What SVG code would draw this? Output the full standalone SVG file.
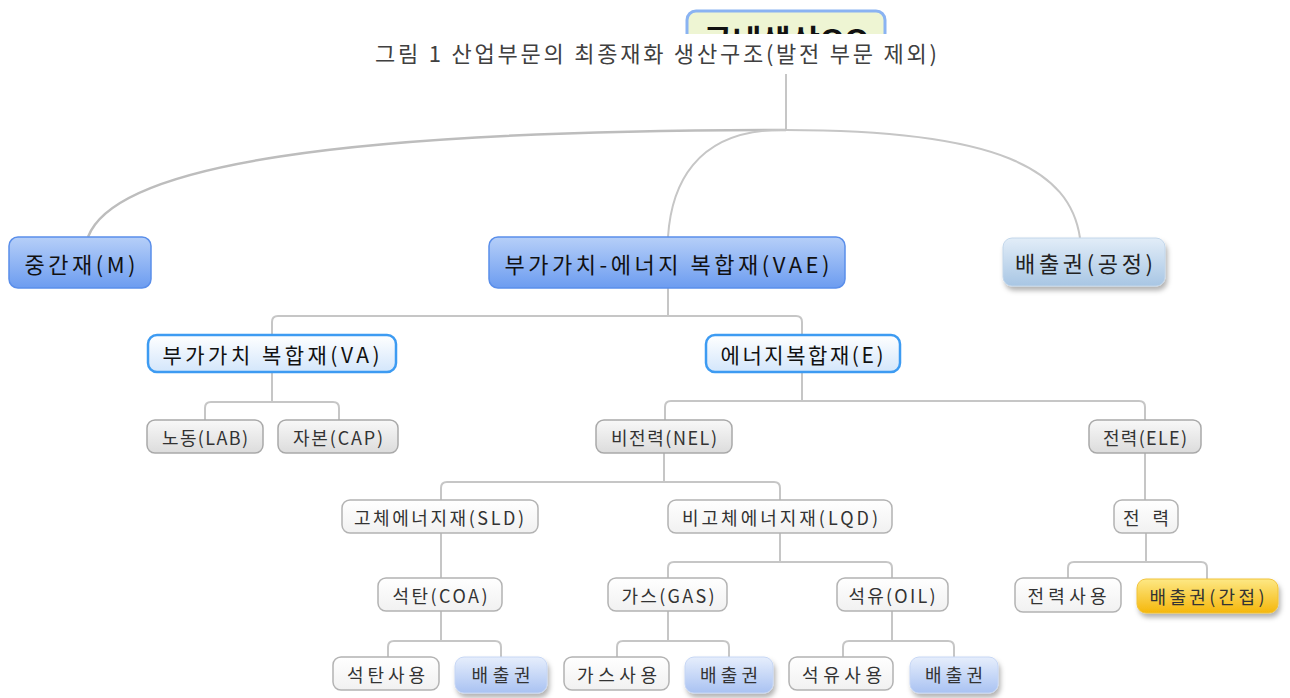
<svg xmlns="http://www.w3.org/2000/svg" width="1290" height="698" viewBox="0 0 1290 698">
<defs>
<linearGradient id="gBlue" x1="0" y1="0" x2="0" y2="1"><stop offset="0" stop-color="#b6cff8"/><stop offset="1" stop-color="#6c9cf0"/></linearGradient>
<linearGradient id="gLight" x1="0" y1="0" x2="0" y2="1"><stop offset="0" stop-color="#ffffff"/><stop offset="1" stop-color="#d3e6fb"/></linearGradient>
<linearGradient id="gGrey" x1="0" y1="0" x2="0" y2="1"><stop offset="0" stop-color="#f8f8f8"/><stop offset="1" stop-color="#dcdcdc"/></linearGradient>
<linearGradient id="gWhite" x1="0" y1="0" x2="0" y2="1"><stop offset="0" stop-color="#ffffff"/><stop offset="1" stop-color="#f1f1f1"/></linearGradient>
<linearGradient id="gEmis" x1="0" y1="0" x2="0" y2="1"><stop offset="0" stop-color="#e6eefc"/><stop offset="1" stop-color="#a9c2f2"/></linearGradient>
<linearGradient id="gProc" x1="0" y1="0" x2="0" y2="1"><stop offset="0" stop-color="#e2edf8"/><stop offset="1" stop-color="#a8c6e4"/></linearGradient>
<linearGradient id="gYel" x1="0" y1="0" x2="0" y2="1"><stop offset="0" stop-color="#fde884"/><stop offset="1" stop-color="#f5b70c"/></linearGradient>
<filter id="sh" x="-20%" y="-30%" width="150%" height="180%"><feDropShadow dx="2" dy="4" stdDeviation="2.5" flood-color="#000" flood-opacity="0.3"/></filter>
<clipPath id="rootClip"><rect x="0" y="0" width="1290" height="34"/></clipPath>
</defs>
<style>
text{font-family:"Noto Sans CJK KR","Noto Sans",sans-serif;text-anchor:middle;dominant-baseline:central}
.l1 rect{fill:url(#gBlue);stroke:#5a8eea;stroke-width:1.5}
.l1 text{font-size:22px;fill:#111}
.l2 rect{fill:url(#gLight);stroke:#3d9bf2;stroke-width:2.5}
.l2 text{font-size:21px;fill:#111}
.gr rect{fill:url(#gGrey);stroke:#a9a9a9;stroke-width:1.5}
.wh rect{fill:url(#gWhite);stroke:#b3b3b3;stroke-width:1.5}
.em rect{fill:url(#gEmis);stroke:#c6d6f4;stroke-width:1}
.gr text,.wh text,.em text,.ye text{font-size:18px;fill:#333}
.pr rect{fill:url(#gProc);stroke:#c2d6ea;stroke-width:1}
.pr text{font-size:22px;fill:#222}
.ye rect{fill:url(#gYel);stroke:#f1c33a;stroke-width:1}
.conn path{fill:none;stroke:#c6c6c6;stroke-width:2}
.conn path.c{stroke:#bdbdbd;stroke-width:2.5}
</style>
<rect width="1290" height="698" fill="#ffffff"/>

<g id="root" clip-path="url(#rootClip)">
<rect x="687" y="11" width="198" height="50" rx="9" fill="#eef5d3" stroke="#8ab3f2" stroke-width="3"/>
<text x="786" y="37" font-size="27" font-weight="bold" fill="#111" textLength="166" lengthAdjust="spacingAndGlyphs">국내생산QO</text>
</g>

<g id="title">
<rect x="0" y="34" width="1290" height="40" fill="#ffffff"/>
<text x="656" y="52" font-size="22" fill="#404040" textLength="562" lengthAdjust="spacing">그림 1 산업부문의 최종재화 생산구조(발전 부문 제외)</text>
</g>

<g id="connectors" class="conn">
<path d="M786,74 V130"/>
<path class="c" d="M786,130 C340,130 115,165 88,237"/>
<path d="M786,130 C692,128 671,190 668,237"/>
<path d="M786,130 C1000,130 1070,170 1080,238"/>
<path d="M668,288 V316 M272,335 V322 Q272,316 278,316 H796 Q802,316 802,322 V335"/>
<path d="M272,373 V402 M205,420 V408 Q205,402 211,402 H333 Q339,402 339,408 V420"/>
<path d="M802,373 V401 M665,420 V407 Q665,401 671,401 H1139 Q1145,401 1145,407 V420"/>
<path d="M664,453 V482 M441,500 V488 Q441,482 447,482 H774 Q780,482 780,488 V500"/>
<path d="M1145,453 V500"/>
<path d="M441,533 V578"/>
<path d="M780,533 V562 M668,578 V568 Q668,562 674,562 H886 Q892,562 892,568 V578"/>
<path d="M1146,533 V562 M1068,578 V568 Q1068,562 1074,562 H1201 Q1207,562 1207,568 V579"/>
<path d="M441,611 V641 M388,657 V647 Q388,641 394,641 H495 Q501,641 501,647 V657"/>
<path d="M668,611 V641 M617,657 V647 Q617,641 623,641 H723 Q729,641 729,647 V657"/>
<path d="M892,611 V641 M843,657 V647 Q843,641 849,641 H948 Q954,641 954,647 V657"/>
</g>

<g id="n-M" class="l1"><rect x="9" y="237" width="142" height="51" rx="9"/><text x="80" y="263" textLength="111" lengthAdjust="spacing">중간재(M)</text></g>
<g id="n-VAE" class="l1"><rect x="489" y="237" width="356" height="51" rx="9"/><text x="667" y="263" textLength="325" lengthAdjust="spacing">부가가치-에너지 복합재(VAE)</text></g>
<g id="n-proc" class="pr"><rect x="1003" y="238" width="162" height="48" rx="9" filter="url(#sh)"/><text x="1084" y="262" textLength="138" lengthAdjust="spacing">배출권(공정)</text></g>

<g id="n-VA" class="l2"><rect x="148" y="335" width="248" height="37" rx="9"/><text x="271" y="354" textLength="217" lengthAdjust="spacing">부가가치 복합재(VA)</text></g>
<g id="n-E" class="l2"><rect x="706" y="335" width="194" height="37" rx="9"/><text x="802" y="354" textLength="163" lengthAdjust="spacing">에너지복합재(E)</text></g>

<g id="n-LAB" class="gr"><rect x="147" y="420" width="116" height="33" rx="8"/><text x="205" y="437" textLength="86" lengthAdjust="spacing">노동(LAB)</text></g>
<g id="n-CAP" class="gr"><rect x="278" y="420" width="120" height="33" rx="8"/><text x="338" y="437" textLength="90" lengthAdjust="spacing">자본(CAP)</text></g>
<g id="n-NEL" class="gr"><rect x="596" y="420" width="136" height="33" rx="8"/><text x="664" y="437" textLength="106" lengthAdjust="spacing">비전력(NEL)</text></g>
<g id="n-ELE" class="gr"><rect x="1089" y="420" width="112" height="33" rx="8"/><text x="1145" y="437" textLength="84" lengthAdjust="spacing">전력(ELE)</text></g>

<g id="n-SLD" class="wh"><rect x="342" y="500" width="196" height="33" rx="8"/><text x="439" y="517" textLength="170" lengthAdjust="spacing">고체에너지재(SLD)</text></g>
<g id="n-LQD" class="wh"><rect x="668" y="500" width="224" height="33" rx="8"/><text x="780" y="517" textLength="196" lengthAdjust="spacing">비고체에너지재(LQD)</text></g>
<g id="n-power" class="wh"><rect x="1114" y="500" width="64" height="33" rx="8"/><text x="1146" y="517" textLength="46" lengthAdjust="spacing">전력</text></g>

<g id="n-COA" class="wh"><rect x="378" y="578" width="124" height="33" rx="8"/><text x="440" y="595" textLength="95" lengthAdjust="spacing">석탄(COA)</text></g>
<g id="n-GAS" class="wh"><rect x="608" y="578" width="119" height="33" rx="8"/><text x="668" y="595" textLength="93" lengthAdjust="spacing">가스(GAS)</text></g>
<g id="n-OIL" class="wh"><rect x="837" y="578" width="111" height="33" rx="8"/><text x="892" y="595" textLength="87" lengthAdjust="spacing">석유(OIL)</text></g>
<g id="n-powuse" class="wh"><rect x="1015" y="578" width="106" height="34" rx="8"/><text x="1067" y="595" textLength="79" lengthAdjust="spacing">전력사용</text></g>
<g id="n-indirect" class="ye"><rect x="1137" y="579" width="141" height="34" rx="9" filter="url(#sh)"/><text x="1207" y="596" textLength="115" lengthAdjust="spacing">배출권(간접)</text></g>

<g id="n-coaluse" class="wh"><rect x="333" y="657" width="106" height="33" rx="8"/><text x="386" y="674" textLength="78" lengthAdjust="spacing">석탄사용</text></g>
<g id="n-coalem" class="em"><rect x="455" y="657" width="92" height="36" rx="9" filter="url(#sh)"/><text x="501" y="674" textLength="59" lengthAdjust="spacing">배출권</text></g>
<g id="n-gasuse" class="wh"><rect x="564" y="657" width="105" height="33" rx="8"/><text x="617" y="674" textLength="80" lengthAdjust="spacing">가스사용</text></g>
<g id="n-gasem" class="em"><rect x="685" y="657" width="88" height="36" rx="9" filter="url(#sh)"/><text x="729" y="674" textLength="58" lengthAdjust="spacing">배출권</text></g>
<g id="n-oiluse" class="wh"><rect x="789" y="657" width="104" height="33" rx="8"/><text x="842" y="674" textLength="80" lengthAdjust="spacing">석유사용</text></g>
<g id="n-oilem" class="em"><rect x="910" y="657" width="88" height="36" rx="9" filter="url(#sh)"/><text x="954" y="674" textLength="58" lengthAdjust="spacing">배출권</text></g>
</svg>
